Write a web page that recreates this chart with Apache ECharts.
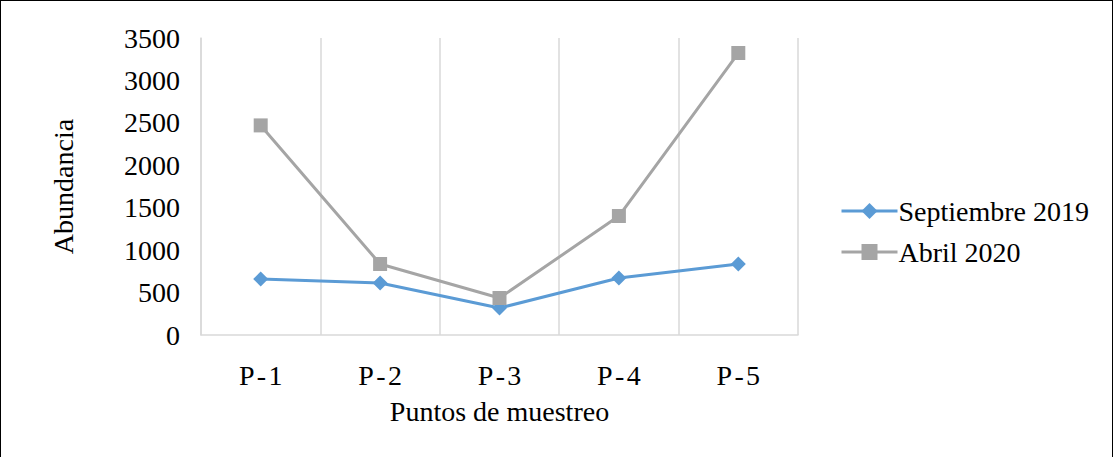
<!DOCTYPE html>
<html>
<head>
<meta charset="utf-8">
<script src="https://cdn.jsdelivr.net/npm/echarts@6.0.0/dist/echarts.min.js"></script>
<style>
  html, body { margin: 0; padding: 0; background: #fff; }
  #chart { width: 1113px; height: 457px; box-sizing: border-box; border: 1.5px solid #000; border-bottom: none; }
</style>
</head>
<body>
<div id="chart"></div>
<script>
// values
const categories = ["P\u200A-\u200A1", "P\u200A-\u200A2", "P\u200A-\u200A3", "P\u200A-\u200A4", "P\u200A-\u200A5"];
const septiembre2019 = [660, 613, 318, 672, 837];
const abril2020 = [2470, 837, 436, 1402, 3323];
const yTicks = { min: 0, max: 3500, interval: 500 };

const FONT = "'Liberation Serif', 'Times New Roman', serif";
const FONT_SIZE = 28;
const GRID_COLOR = "#d9d9d9";

const chart = echarts.init(document.getElementById("chart"), null, { renderer: "svg" });

chart.setOption({
  animation: false,
  textStyle: { fontFamily: FONT, color: "#000" },
  grid: { left: 200, right: 314, top: 37, bottom: 122 },
  legend: {
    orient: "vertical",
    left: 834,
    top: 191,
    itemWidth: 56,
    itemHeight: 20,
    itemGap: 13,
    lineStyle: { width: 3 },
    textStyle: { fontFamily: FONT, fontSize: FONT_SIZE, color: "#000", padding: [0, 0, 0, -4] },
    data: ["Septiembre 2019", "Abril 2020"],
  },
  xAxis: {
    type: "category",
    data: categories,
    boundaryGap: true,
    name: "Puntos de muestreo",
    nameLocation: "middle",
    nameGap: 62,
    nameTextStyle: { fontFamily: FONT, fontSize: FONT_SIZE, color: "#000" },
    axisLine: { lineStyle: { color: GRID_COLOR, width: 1.5 } },
    axisTick: { show: false },
    axisLabel: { fontFamily: FONT, fontSize: FONT_SIZE, color: "#000", margin: 26 },
    splitLine: { show: true, lineStyle: { color: GRID_COLOR, width: 1.5 } },
  },
  yAxis: {
    type: "value",
    min: yTicks.min,
    max: yTicks.max,
    interval: yTicks.interval,
    name: "Abundancia",
    nameLocation: "middle",
    nameGap: 124,
    nameTextStyle: { fontFamily: FONT, fontSize: FONT_SIZE, color: "#000" },
    axisLine: { show: true, lineStyle: { color: GRID_COLOR, width: 1.5 } },
    axisTick: { show: false },
    axisLabel: {
      fontFamily: FONT, fontSize: FONT_SIZE, color: "#000", margin: 21,
      formatter: (v) => String(v),
    },
    splitLine: { show: false },
  },
  series: [
    {
      name: "Septiembre 2019",
      type: "line",
      data: septiembre2019,
      symbol: "diamond",
      symbolSize: 15,
      showAllSymbol: true,
      lineStyle: { color: "#5B9BD5", width: 3 },
      itemStyle: { color: "#5B9BD5" },
    },
    {
      name: "Abril 2020",
      type: "line",
      data: abril2020,
      symbol: "rect",
      symbolSize: 14,
      showAllSymbol: true,
      lineStyle: { color: "#A5A5A5", width: 3 },
      itemStyle: { color: "#A5A5A5" },
    },
  ],
});
</script>
</body>
</html>
